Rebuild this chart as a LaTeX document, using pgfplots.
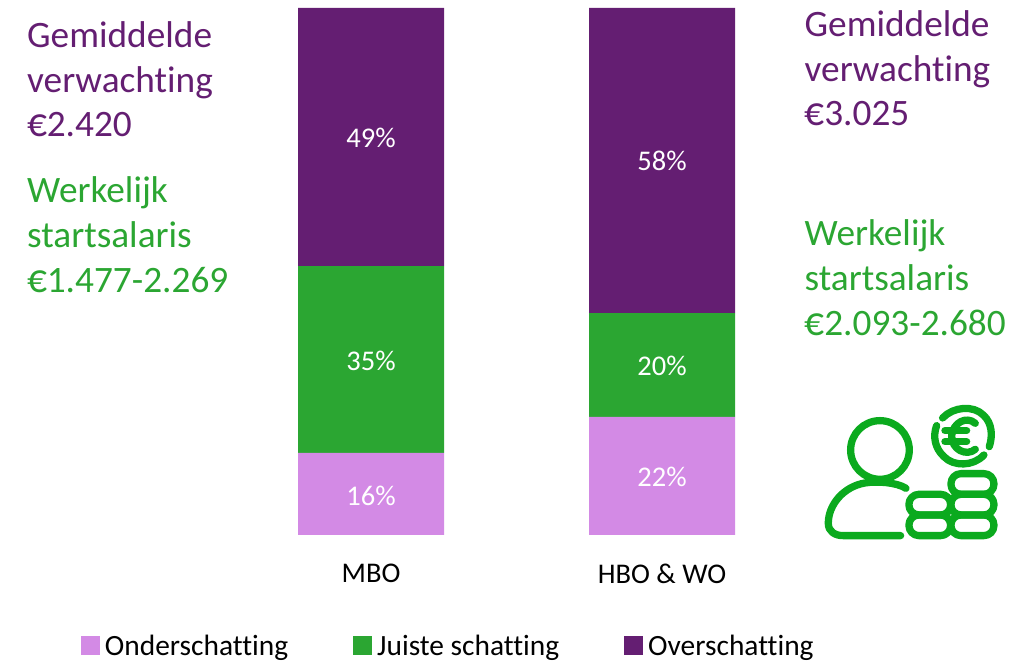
\documentclass[border=0pt]{standalone}
\usepackage{fontspec}
\setmainfont{Carlito}[Ligatures=NoCommon,Numbers=Lining]
\usepackage{pgfplots}
\pgfplotsset{compat=1.18}
\definecolor{dpurple}{HTML}{641E72}
\definecolor{mgreen}{HTML}{2BA632}
\definecolor{lpurple}{HTML}{D38AE5}
\definecolor{icong}{HTML}{0BAA1E}
\newcommand{\bigf}{\fontsize{37.3}{37.3}\selectfont}
\newcommand{\midf}{\fontsize{28.5}{28.5}\selectfont}
\newcommand{\legf}{\fontsize{29.4}{29.4}\selectfont}
\newcommand{\eur}{\scalebox{1.06}[1.1]{€}\kern-0.4pt}
\begin{document}
\begin{tikzpicture}[x=1pt,y=1pt]
\path (0,0) rectangle (1028,661);
\begin{axis}[
  at={(0pt,126pt)}, anchor=south west,
  scale only axis, width=1028pt, height=527pt,
  xmin=-1.27491, xmax=2.25773, ymin=0, ymax=100,
  ybar stacked, bar width=146pt,
  axis line style={draw=none}, major tick length=0pt,
  ytick=\empty, xtick={0,1}, xticklabels={MBO,HBO \& WO},
  x tick label style={font=\midf, text=black, yshift=-26pt},
  clip=false,
  legend columns=3,
  legend cell align=left,
  legend style={draw=none, fill=none, font=\legf, at={(81pt,-111pt)}, anchor=west,
    inner sep=0pt, outer sep=0pt,
    /tikz/every even column/.append style={column sep=63pt}},
  legend image code/.code={\fill[#1] (0pt,-9pt) rectangle (19pt,10pt);\path (22pt,0pt);},
]
\addplot[fill=lpurple, draw=none] coordinates {(0,15.6) (1,22.4)};
\addplot[fill=mgreen, draw=none] coordinates {(0,35.44) (1,19.7)};
\addplot[fill=dpurple, draw=none] coordinates {(0,48.96) (1,57.9)};
\legend{Onderschatting,Juiste schatting,Overschatting}
\end{axis}
% value labels, centred in their segments
\begin{axis}[
  at={(0pt,126pt)}, anchor=south west,
  scale only axis, width=1028pt, height=527pt,
  xmin=-1.27491, xmax=2.25773, ymin=0, ymax=100,
  hide axis, clip=false,
]
\addplot[draw=none, mark=none, only marks,
  nodes near coords, point meta=explicit symbolic,
  nodes near coords style={anchor=center, text=white, font=\midf, inner sep=0pt}]
  table[x=x, y=y, meta=label, row sep=crcr] {
  x y label\\
  0 7.4 16\%\\
  0 33.0 35\%\\
  0 75.3 49\%\\
  1 11.0 22\%\\
  1 32.1 20\%\\
  1 70.9 58\%\\
};
\end{axis}
% text blocks (baselines measured from the top)
\foreach \yy/\t in {48/Gemiddelde,93/verwachting,137/\eur2.420}
  \node[anchor=base west,inner sep=0pt,text=dpurple,font=\bigf] at (27,661-\yy) {\t};
\foreach \yy/\t in {203/Werkelijk,248/startsalaris,293/\eur1.477-2.269}
  \node[anchor=base west,inner sep=0pt,text=mgreen,font=\bigf] at (27,661-\yy) {\t};
\foreach \yy/\t in {36.5/Gemiddelde,81.5/verwachting,125.5/\eur3.025}
  \node[anchor=base west,inner sep=0pt,text=dpurple,font=\bigf] at (804.5,661-\yy) {\t};
\foreach \yy/\t in {245.5/Werkelijk,290.5/startsalaris,335.5/\eur2.093-2.680}
  \node[anchor=base west,inner sep=0pt,text=mgreen,font=\bigf] at (804.5,661-\yy) {\t};
% icon
\begin{scope}[shift={(810,266)},x=0.3333pt,y=-0.3333pt,draw=icong,line width=7.3pt,line cap=round,line join=round]
\draw (210,165) circle (88);
\draw (288,280) .. controls (260,262) and (200,258) .. (165,264) .. controls (100,275) and (55,330) .. (55,385) .. controls (55,410) and (75,422) .. (100,422) -- (272,422);
\draw[rounded corners=10pt] (297,298) rectangle (422,360);
\draw[rounded corners=10pt] (297,360) rectangle (422,422);
\draw[rounded corners=10pt] (423,236) rectangle (552,298);
\draw[rounded corners=10pt] (423,298) rectangle (552,360);
\draw[rounded corners=10pt] (423,360) rectangle (552,422);
% coin
\draw (398,69) .. controls (430,35) and (490,30) .. (520,60) .. controls (548,85) and (548,125) .. (538,155);
\draw (522,180) .. controls (490,215) and (430,215) .. (402,185) .. controls (375,160) and (368,125) .. (380,92);
\draw (496,85) .. controls (470,62) and (430,82) .. (425,122) .. controls (425,165) and (470,185) .. (496,163);
\draw (405,107) -- (470,107);
\draw (405,140) -- (470,140);
\end{scope}
\end{tikzpicture}
\end{document}
